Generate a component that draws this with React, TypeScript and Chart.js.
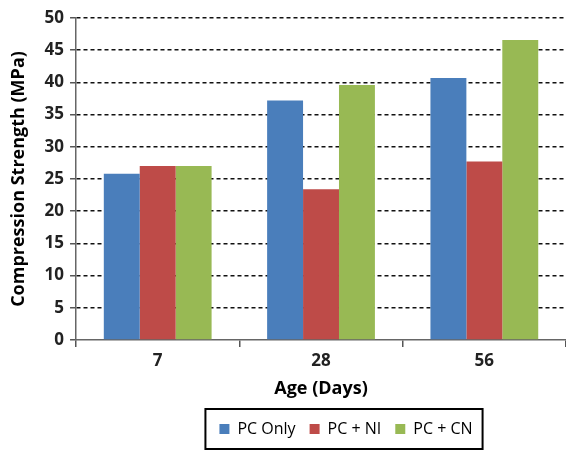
import React, { useEffect, useRef } from "react";
import { Chart, registerables } from "chart.js";

Chart.register(...registerables);

const categories = ["7", "28", "56"];
const pcOnly = [25.8, 37.2, 40.7];
const pcNI = [27.0, 23.4, 27.7];
const pcCN = [27.0, 39.6, 46.6];
const seriesNames = ["PC Only", "PC + NI", "PC + CN"];
const yTitle = "Compression Strength (MPa)";
const xTitle = "Age (Days)";

const FONT = "'Open Sans', 'Liberation Sans', sans-serif";
const LEGEND_SHIFT = 59;

const legendBox = {
  id: "legendBox",
  afterLayout(chart: any) {
    const lg = chart.legend;
    if (!lg) return;
    lg.left += LEGEND_SHIFT;
    lg.right += LEGEND_SHIFT;
    if (lg.legendHitBoxes) for (const h of lg.legendHitBoxes) h.left += LEGEND_SHIFT;
  },
  afterDraw(chart: any) {
    const lg = chart.legend;
    if (!lg || !lg.legendHitBoxes || !lg.legendHitBoxes.length) return;
    let l = Infinity, r = -Infinity, t = Infinity, b = -Infinity;
    for (const h of lg.legendHitBoxes) {
      l = Math.min(l, h.left);
      r = Math.max(r, h.left + h.width);
      t = Math.min(t, h.top);
      b = Math.max(b, h.top + h.height);
    }
    const ctx = chart.ctx;
    ctx.save();
    ctx.strokeStyle = "#000";
    ctx.lineWidth = 2;
    ctx.strokeRect(l - 14, t - 12, r - l + 24, b - t + 24);
    ctx.restore();
  },
};

export default function App() {
  const ref = useRef<HTMLCanvasElement | null>(null);
  useEffect(() => {
    if (!ref.current) return;
    const chart = new Chart(ref.current, {
      type: "bar",
      data: {
        labels: categories,
        datasets: [
          { label: seriesNames[0], data: pcOnly, backgroundColor: "#4a7ebb" },
          { label: seriesNames[1], data: pcNI, backgroundColor: "#be4b48" },
          { label: seriesNames[2], data: pcCN, backgroundColor: "#98b954" },
        ],
      },
      options: {
        animation: false,
        responsive: false,
        maintainAspectRatio: false,
        layout: { padding: { top: 18, right: 0, left: 8, bottom: 4 } },
        datasets: { bar: { categoryPercentage: 0.66, barPercentage: 1.0 } },
        plugins: {
          tooltip: { enabled: false },
          legend: {
            position: "bottom",
            labels: {
              color: "#000",
              font: { family: FONT, size: 16 },
              boxWidth: 10,
              boxHeight: 10,
              padding: 14,
            },
          },
        },
        scales: {
          x: {
            grid: {
              display: true,
              drawOnChartArea: false,
              drawTicks: true,
              tickLength: 7,
              color: "#555",
              lineWidth: 1.5,
            },
            border: { color: "#666", width: 1.5 },
            ticks: {
              color: "#222",
              font: { family: FONT, size: 17, weight: "bold" },
              padding: 4,
            },
            title: {
              display: true,
              text: xTitle,
              color: "#000",
              font: { family: FONT, size: 18, weight: "bold" },
              padding: { top: 3, bottom: 7 },
            },
          },
          y: {
            min: 0,
            max: 50,
            ticks: {
              stepSize: 5,
              color: "#222",
              font: { family: FONT, size: 17, weight: "bold" },
              padding: 6,
            },
            grid: {
              color: (c: any) => (c.tick && c.tick.value === 0 ? "transparent" : "#111"),
              tickColor: "#555",
              tickLength: 6,
              lineWidth: 1.5,
              tickBorderDash: [],
            },
            border: { color: "#666", width: 1.5, dash: [4, 3] },
            title: {
              display: true,
              text: yTitle,
              color: "#000",
              font: { family: FONT, size: 18, weight: "bold" },
              padding: { top: 0, bottom: 9 },
            },
          },
        },
      },
      plugins: [legendBox],
    });
    return () => chart.destroy();
  }, []);
  return (
    <div style={{ position: "fixed", left: 0, top: 0, width: 566, height: 451, background: "#fff" }}>
      <canvas ref={ref} width={566} height={451} />
    </div>
  );
}
